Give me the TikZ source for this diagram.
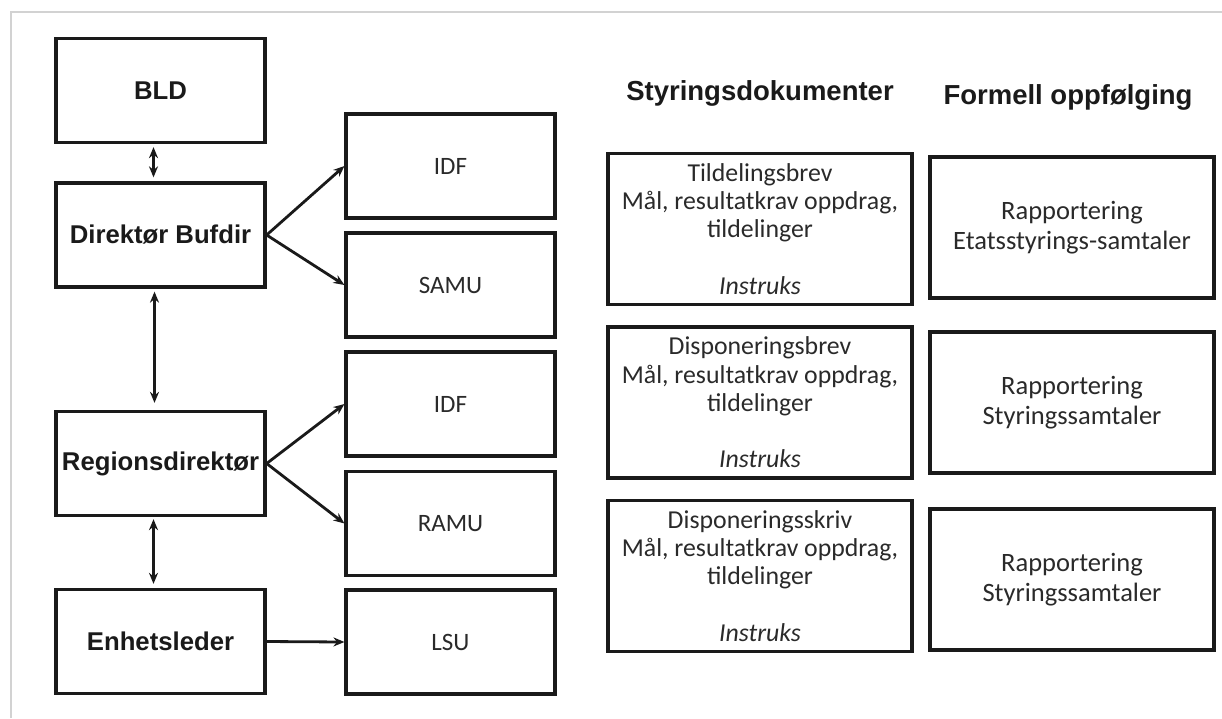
\documentclass[tikz,border=0pt]{standalone}
\usepackage{fontspec}
\setmainfont{Carlito}
\newfontfamily\arialf{Liberation Sans}
\usetikzlibrary{arrows.meta}
\definecolor{ink}{HTML}{1A1A1A}
\definecolor{txt}{HTML}{2A2A2A}
\begin{document}
\begin{tikzpicture}[x=1pt,y=-1pt,
 lbox/.style={draw=ink,line width=3.3pt,minimum width=209pt,minimum height=104pt,inner sep=0pt,text=ink,font=\arialf\bfseries\fontsize{25.7}{30}\selectfont},
 sbox/.style={draw=ink,line width=3.1pt,minimum width=209pt,minimum height=104pt,inner sep=0pt,text=txt,font=\fontsize{25}{30}\selectfont},
 dbox/.style={draw=ink,line width=3.1pt,minimum width=304pt,minimum height=151pt,inner sep=0pt,align=center,text=txt,font=\fontsize{25.8}{28.3}\selectfont},
 fupbox/.style={draw=ink,line width=3.1pt,minimum width=284pt,minimum height=141pt,inner sep=0pt,align=center,text=txt,font=\fontsize{26.5}{30}\selectfont},
 head/.style={inner sep=0pt,text=ink,font=\arialf\bfseries\fontsize{27.5}{32}\selectfont},
 arr/.style={draw=ink,line width=2.8pt,-{Stealth[length=11pt,width=9pt]}},
 darr/.style={draw=ink,line width=2.8pt,{Stealth[length=11pt,width=9pt]}-{Stealth[length=11pt,width=9pt]}}
]
\useasboundingbox[fill=white] (0,0) rectangle (1222,718);
\draw[gray!35,line width=2pt] (11,718) -- (11,12) -- (1222,12);

% left column
\node[lbox] (bld) at (160.5,90.5) {BLD};
\node[lbox] (dir) at (160.5,235) {Direktør Bufdir};
\node[lbox] (reg) at (160.5,463.5) {Regionsdirektør};
\node[lbox] (enh) at (160.5,641.5) {Enhetsleder};

% small boxes
\node[sbox] (idfa) at (450.5,166) {IDF};
\node[sbox] (samu) at (450.5,285) {SAMU};
\node[sbox] (idfb) at (450.5,404) {IDF};
\node[sbox] (ramu) at (450.5,523.5) {RAMU};
\node[sbox] (lsu) at (450.5,642) {LSU};

% headers
\node[head] (hdoc) at (760,93) {Styringsdokumenter};
\node[head] (hfol) at (1068,97) {Formell oppfølging};

% documents
\node[dbox] (doca) at (760,229) {Tildelingsbrev\\Mål, resultatkrav oppdrag,\\tildelinger\\[28.3pt]\textit{Instruks}};
\node[dbox] (docb) at (760,402.5) {Disponeringsbrev\\Mål, resultatkrav oppdrag,\\tildelinger\\[28.3pt]\textit{Instruks}};
\node[dbox] (docc) at (760,576) {Disponeringsskriv\\Mål, resultatkrav oppdrag,\\tildelinger\\[28.3pt]\textit{Instruks}};

% follow-up
\node[fupbox] (fola) at (1072,227.5) {Rapportering\\Etatsstyrings-samtaler};
\node[fupbox] (folb) at (1072,402.5) {Rapportering\\Styringssamtaler};
\node[fupbox] (folc) at (1072,579.5) {Rapportering\\Styringssamtaler};

% connectors
\draw[darr] ([shift={(-7,3)}]bld.south) -- ([shift={(-7,-4)}]dir.north);
\draw[darr] ([shift={(-6,3)}]dir.south) -- ([shift={(-6,-7)}]reg.north);
\draw[darr] ([shift={(-7,2)}]reg.south) -- ([shift={(-7,-4)}]enh.north);
\draw[arr] (dir.east) -- (idfa.west);
\draw[arr] (dir.east) -- (samu.west);
\draw[arr] (reg.east) -- (idfb.west);
\draw[arr] (reg.east) -- (ramu.west);
\draw[arr] (enh.east) -- (lsu.west);
\end{tikzpicture}
\end{document}
